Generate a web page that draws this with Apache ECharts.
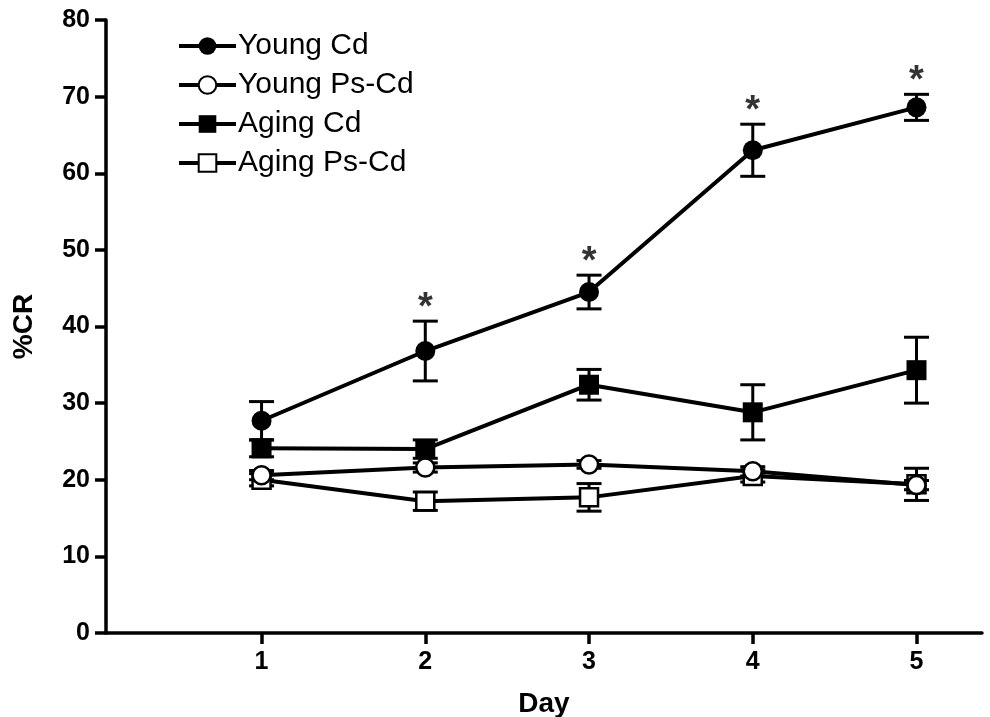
<!DOCTYPE html>
<html lang="en">
<head>
    <meta charset="UTF-8">
    <script src="https://cdn.jsdelivr.net/npm/echarts@6.0.0/dist/echarts.min.js"></script>
    <title>%CR by day</title>
    <style>
        html, body {
            margin: 0;
            padding: 0;
            background: #fff;
        }

        #main {
            width: 990px;
            height: 717px;
        }
    </style>
</head>
<body>
<div id="main"></div>
<script>
    // days and tick labels
    var days = [1, 2, 3, 4, 5];
    var yTicks = [0, 10, 20, 30, 40, 50, 60, 70, 80];

    // mean %CR and error (SEM) per group
    var youngCd = [27.7, 36.8, 44.5, 63.0, 68.6];
    var youngCdErr = [2.5, 3.9, 2.2, 3.4, 1.7];
    var youngPsCd = [20.6, 21.6, 22.0, 21.1, 19.3];
    var youngPsCdErr = [0.6, 0.6, 0.5, 0.6, 0.6];
    var agingCd = [24.1, 24.0, 32.4, 28.8, 34.3];
    var agingCdErr = [1.1, 1.2, 2.0, 3.6, 4.3];
    var agingPsCd = [20.0, 17.2, 17.7, 20.5, 19.4];
    var agingPsCdErr = [0.8, 1.2, 1.8, 0.8, 2.1];

    // days where Young Cd is marked significant
    var starDays = [2, 3, 4, 5];

    var FONT = 'Arial, "Liberation Sans", sans-serif';

    function pairs(ys) {
        var out = [];
        for (var i = 0; i < days.length; i++) {
            out.push([days[i], ys[i]]);
        }
        return out;
    }

    function errData(ys, es) {
        var out = [];
        for (var i = 0; i < days.length; i++) {
            out.push([days[i], ys[i] - es[i], ys[i] + es[i]]);
        }
        return out;
    }

    function renderErr(params, api) {
        var x = api.value(0);
        var lo = api.coord([x, api.value(1)]);
        var hi = api.coord([x, api.value(2)]);
        var hw = 12.5;
        var style = {stroke: '#000', lineWidth: 3};
        return {
            type: 'group',
            children: [
                {type: 'line', shape: {x1: lo[0], y1: lo[1], x2: hi[0], y2: hi[1]}, style: style},
                {type: 'line', shape: {x1: lo[0] - hw, y1: lo[1], x2: lo[0] + hw, y2: lo[1]}, style: style},
                {type: 'line', shape: {x1: hi[0] - hw, y1: hi[1], x2: hi[0] + hw, y2: hi[1]}, style: style}
            ]
        };
    }

    function errSeries(ys, es) {
        return {
            type: 'custom',
            renderItem: renderErr,
            data: errData(ys, es),
            silent: true,
            z: 1
        };
    }

    function lineSeries(name, ys, symbol, filled) {
        return {
            name: name,
            type: 'line',
            data: pairs(ys),
            symbol: symbol,
            symbolSize: filled ? 20 : 18,
            showAllSymbol: true,
            lineStyle: {color: '#000', width: 4},
            itemStyle: {
                color: filled ? '#000' : '#fff',
                borderColor: '#000',
                borderWidth: filled ? 0 : 2.5
            },
            emphasis: {disabled: true},
            z: 3
        };
    }

    var starData = [];
    for (var k = 0; k < starDays.length; k++) {
        var idx = days.indexOf(starDays[k]);
        starData.push([starDays[k], youngCd[idx] + youngCdErr[idx]]);
    }

    var myChart = echarts.init(document.getElementById('main'));

    var option = {
        backgroundColor: '#fff',
        animation: false,
        grid: {left: 106, right: 8, top: 20, bottom: 84, containLabel: false, outerBoundsMode: 'none'},
        legend: {
            orient: 'vertical',
            left: 172,
            top: 26,
            itemWidth: 57,
            itemHeight: 22,
            itemGap: 9,
            lineStyle: {width: 4},
            textStyle: {fontFamily: FONT, fontSize: 30, color: '#000', padding: [0, 0, 0, -3]},
            data: ['Young Cd', 'Young Ps-Cd', 'Aging Cd', 'Aging Ps-Cd']
        },
        xAxis: {
            type: 'value',
            min: 0.05,
            max: 5.4,
            name: 'Day',
            nameLocation: 'middle',
            nameGap: 57,
            nameTextStyle: {fontFamily: FONT, fontSize: 28, fontWeight: 'bold', color: '#000'},
            splitLine: {show: false},
            axisLine: {onZero: false, lineStyle: {color: '#000', width: 3.5}},
            axisTick: {
                customValues: days,
                length: 11,
                lineStyle: {color: '#000', width: 3.5}
            },
            axisLabel: {
                customValues: days,
                margin: 17,
                fontFamily: FONT,
                fontSize: 25,
                fontWeight: 'bold',
                color: '#000'
            }
        },
        yAxis: {
            type: 'value',
            min: 0,
            max: 80,
            interval: 10,
            name: '%CR',
            nameLocation: 'middle',
            nameRotate: 90,
            nameGap: 68,
            nameTextStyle: {fontFamily: FONT, fontSize: 28, fontWeight: 'bold', color: '#000'},
            splitLine: {show: false},
            axisLine: {show: true, lineStyle: {color: '#000', width: 3.5}},
            axisTick: {
                show: true,
                customValues: yTicks,
                length: 11,
                lineStyle: {color: '#000', width: 3.5}
            },
            axisLabel: {
                customValues: yTicks,
                margin: 16,
                fontFamily: FONT,
                fontSize: 25,
                fontWeight: 'bold',
                color: '#000'
            }
        },
        series: [
            errSeries(youngCd, youngCdErr),
            errSeries(youngPsCd, youngPsCdErr),
            errSeries(agingCd, agingCdErr),
            errSeries(agingPsCd, agingPsCdErr),
            lineSeries('Aging Ps-Cd', agingPsCd, 'rect', false),
            lineSeries('Young Ps-Cd', youngPsCd, 'circle', false),
            lineSeries('Aging Cd', agingCd, 'rect', true),
            lineSeries('Young Cd', youngCd, 'circle', true),
            {
                type: 'scatter',
                data: starData,
                symbolSize: 1,
                itemStyle: {color: 'transparent'},
                silent: true,
                label: {
                    show: true,
                    formatter: '*',
                    position: 'top',
                    distance: -7,
                    fontFamily: FONT,
                    fontSize: 38,
                    fontWeight: 'bold',
                    color: '#000'
                },
                z: 4
            }
        ]
    };

    myChart.setOption(option);
</script>
</body>
</html>
